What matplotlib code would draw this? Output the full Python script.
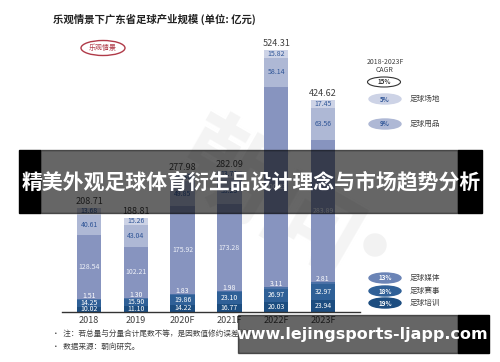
import matplotlib
matplotlib.use('Agg')
import matplotlib.pyplot as plt
from matplotlib.patches import Ellipse, Rectangle
import numpy as np

plt.rcParams['font.family'] = ['Noto Sans CJK SC', 'DejaVu Sans']

# data (亿元), stacked bottom -> top
years = ['2018', '2019', '2020F', '2021F', '2022F', '2023F']
peixun = [10.02, 11.10, 14.22, 16.77, 20.03, 23.94]      # 足球培训
saishi = [14.25, 15.90, 19.86, 23.10, 26.97, 32.97]      # 足球赛事
meiti = [1.51, 1.30, 1.83, 1.98, 3.11, 2.81]             # 足球媒体
other = [128.54, 102.21, 175.92, 173.28, 400.23, 283.89]
yongpin = [40.61, 43.04, 49.85, 53.25, 58.14, 63.56]     # 足球用品
changdi = [13.68, 15.26, 16.30, 13.71, 15.82, 17.45]     # 足球场地
totals = ['208.71', '188.81', '277.98', '282.09', '524.31', '424.62']

cagr_total = '15%'
cagr_top = [('5%', '足球场地'), ('9%', '足球用品')]
cagr_bottom = [('13%', '足球媒体'), ('18%', '足球赛事'), ('19%', '足球培训')]

series = [peixun, saishi, meiti, other, yongpin, changdi]
colors = ['#1c4d80', '#2f6097', '#4a70a6', '#8794bf', '#aeb8d5', '#cdd3e6']
txt_colors = ['white', 'white', 'white', '#eef1f8', '#2f5597', '#2f5597']

W, H = 500, 362
fig = plt.figure(figsize=(5, 3.62), dpi=100)

# faint watermark in the background
bg = fig.add_axes([0, 0, 1, 1], zorder=-1)
bg.set_xlim(0, W)
bg.set_ylim(H, 0)
bg.set_axis_off()
bg.text(270, 200, '朝向', fontsize=72, fontweight='bold', color='#f4f4f4',
        rotation=-30, ha='center', va='center')
bg.add_patch(Ellipse((375, 245), 22, 22, color='#f2f2f2'))

# bar chart
ax = fig.add_axes([62 / W, 50 / H, 298 / W, 280 / H])
ax.patch.set_visible(False)
x = np.arange(len(years))
bw = 0.52
bottom = np.zeros(len(years))
for i, (vals, c) in enumerate(zip(series, colors)):
    vals = np.array(vals)
    ax.bar(x, vals, bw, bottom=bottom, color=c, edgecolor='none')
    for j in range(len(years)):
        if i == 2:
            ypos = bottom[j] + vals[j] + 6
        else:
            ypos = bottom[j] + vals[j] / 2
        ax.text(x[j], ypos, f'{vals[j]:.2f}', ha='center', va='center',
                fontsize=5, color=txt_colors[i])
    bottom += vals

for j in range(len(years)):
    ax.text(x[j], bottom[j] + 3, totals[j], ha='center', va='bottom',
            fontsize=6.5, color='#404040')

ax.set_xlim(-0.577, 5.79)
ax.set_ylim(0, 560)
ax.set_xticks(x)
ax.set_xticklabels(years, fontsize=6.5, color='#404040')
ax.tick_params(axis='x', length=0, pad=3)
ax.set_yticks([])
for s in ['top', 'right', 'left']:
    ax.spines[s].set_visible(False)
ax.spines['bottom'].set_color('#333333')
ax.spines['bottom'].set_linewidth(1.0)

# overlay for titles, legend, notes and banners
ov = fig.add_axes([0, 0, 1, 1])
ov.set_xlim(0, W)
ov.set_ylim(H, 0)
ov.set_axis_off()
ov.patch.set_visible(False)

ov.text(53, 19, '乐观情景下广东省足球产业规模 (单位: 亿元)', fontsize=7.5,
        fontweight='bold', color='#222222', ha='left', va='center')
ov.add_patch(Ellipse((103, 48), 44, 15, fill=False, edgecolor='#b03a48', lw=1.0))
ov.text(103, 48, '乐观情景', fontsize=5, color='#b03a48', ha='center', va='center')

ov.text(385, 66, '2018-2023F\nCAGR', fontsize=5, color='#404040', ha='center',
        va='center', linespacing=1.1)
ov.add_patch(Ellipse((384, 82), 33, 10, fill=False, edgecolor='#333333', lw=0.8))
ov.text(384, 82, cagr_total, fontsize=4.5, fontweight='bold', color='#333333',
        ha='center', va='center')

legend_rows = [(99, cagr_top[0], colors[5], '#2f5597'),
               (124, cagr_top[1], colors[4], '#2f5597'),
               (278, cagr_bottom[0], '#6b84b6', 'white'),
               (291, cagr_bottom[1], colors[1], 'white'),
               (303, cagr_bottom[2], colors[0], 'white')]
for yy, (pct, name), fc, tc in legend_rows:
    ov.add_patch(Ellipse((385, yy), 32, 10, color=fc))
    ov.text(385, yy, pct, fontsize=4.5, fontweight='bold', color=tc,
            ha='center', va='center')
    ov.text(410, yy, name, fontsize=5.5, color='#404040', ha='left', va='center')

ov.text(52, 334, '•  注：若总量与分量合计尾数不等，是因数值修约误差所致。', fontsize=5.5,
        color='#404040', ha='left', va='center')
ov.text(52, 347, '•  数据来源：朝向研究。', fontsize=5.5, color='#404040',
        ha='left', va='center')

# middle banner
ov.add_patch(Rectangle((19, 150), 21, 63, color='black'))
ov.add_patch(Rectangle((40, 150), 418, 63, color='black', alpha=0.6))
ov.add_patch(Rectangle((458, 150), 24, 63, color='black'))
ov.text(251, 182, '精美外观足球体育衍生品设计理念与市场趋势分析', fontsize=15,
        fontweight='bold', color='white', ha='center', va='center')

# url banner
ov.add_patch(Rectangle((238, 315), 220, 38, color='black', alpha=0.6))
ov.add_patch(Rectangle((458, 315), 31, 38, color='black'))
ov.text(362, 334, 'www.lejingsports-ljapp.com', fontsize=11.5,
        fontweight='bold', color='white', ha='center', va='center',
        family='DejaVu Sans')

fig.savefig('out.png', dpi=100)
